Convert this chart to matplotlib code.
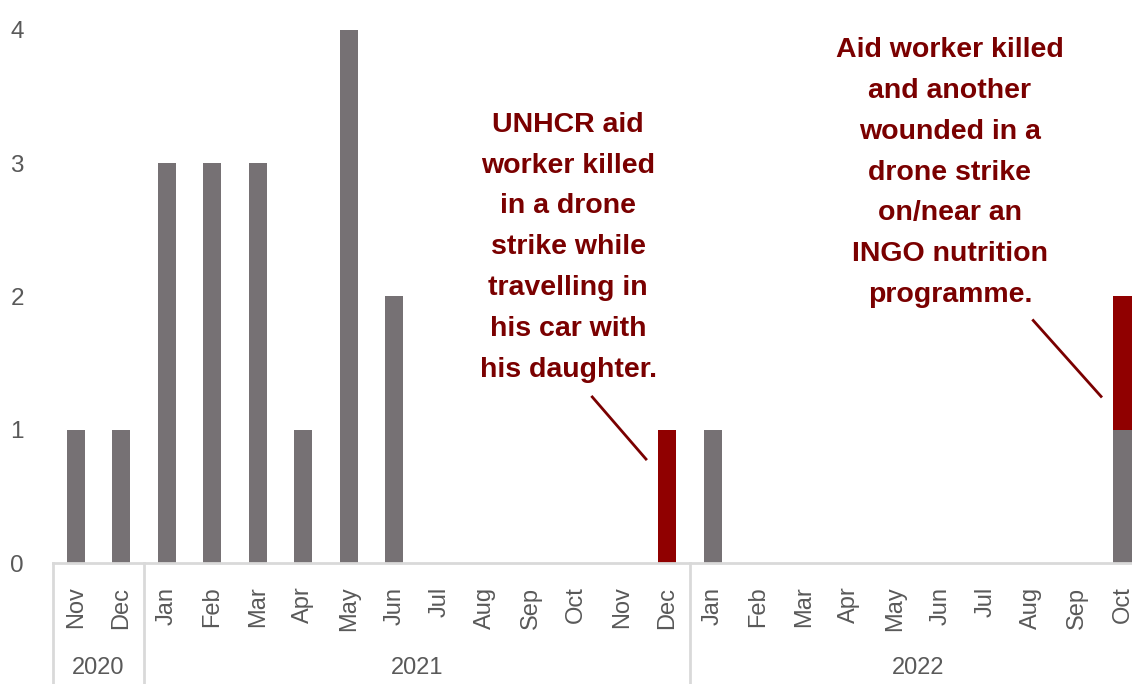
import matplotlib.pyplot as plt
import numpy as np

months = ['Nov', 'Dec',
          'Jan', 'Feb', 'Mar', 'Apr', 'May', 'Jun', 'Jul', 'Aug', 'Sep', 'Oct', 'Nov', 'Dec',
          'Jan', 'Feb', 'Mar', 'Apr', 'May', 'Jun', 'Jul', 'Aug', 'Sep', 'Oct']
years = ['2020', '2021', '2022']
year_counts = [2, 12, 10]
other_incidents = [1, 1, 3, 3, 3, 1, 4, 2, 0, 0, 0, 0, 0, 0,
                   1, 0, 0, 0, 0, 0, 0, 0, 0, 1]
highlighted = [0, 0, 0, 0, 0, 0, 0, 0, 0, 0, 0, 0, 0, 1,
               0, 0, 0, 0, 0, 0, 0, 0, 0, 1]
note_dec21 = ("UNHCR aid\nworker killed\nin a drone\nstrike while\n"
              "travelling in\nhis car with\nhis daughter.")
note_oct22 = ("Aid worker killed\nand another\nwounded in a\ndrone strike\n"
              "on/near an\nINGO nutrition\nprogramme.")

GREY = '#767174'
RED = '#900000'
TEXT_RED = '#7a0000'
LABEL = '#595959'
LINE = '#d9d9d9'

plt.rcParams['font.family'] = ['Liberation Sans', 'DejaVu Sans']

fig = plt.figure(figsize=(11.32, 6.84), dpi=100)
ax = fig.add_axes([53 / 1132, 1 - 563 / 684, 1 - 53 / 1132, 563 / 684])

x = np.arange(len(months))
ax.bar(x, other_incidents, width=0.4, color=GREY)
ax.bar(x, highlighted, width=0.4, bottom=other_incidents, color=RED)

ax.set_xlim(-0.5, 23.21)
ax.set_ylim(0, 4.225)
ax.set_yticks([0, 1, 2, 3, 4])
ax.set_xticks(x)
ax.set_xticklabels(months, rotation=90, va='top')
ax.tick_params(axis='x', length=0, pad=17, labelsize=17, colors=LABEL)
ax.tick_params(axis='y', length=0, pad=21, labelsize=17.5, colors=LABEL)

for side in ['top', 'right', 'left']:
    ax.spines[side].set_visible(False)
ax.spines['bottom'].set_color(LINE)
ax.spines['bottom'].set_linewidth(2)

# year groups under the month labels
trans = ax.get_xaxis_transform()
start = -0.5
for year, count in zip(years, year_counts):
    ax.plot([start, start], [0, -0.215], transform=trans, color=LINE,
            lw=2, clip_on=False)
    ax.text(start + count / 2, -0.187, year, transform=trans, ha='center',
            va='center', fontsize=17, color=LABEL)
    start += count

ax.text(10.82, 2.37, note_dec21, ha='center', va='center', fontsize=20.5,
        fontweight='bold', color=TEXT_RED, linespacing=1.74)
ax.text(19.21, 2.93, note_oct22, ha='center', va='center', fontsize=20.5,
        fontweight='bold', color=TEXT_RED, linespacing=1.74)
ax.plot([11.35, 12.53], [1.246, 0.78], color=TEXT_RED, lw=2)
ax.plot([21.04, 22.53], [1.82, 1.25], color=TEXT_RED, lw=2)

fig.savefig('out.png', dpi=100)
